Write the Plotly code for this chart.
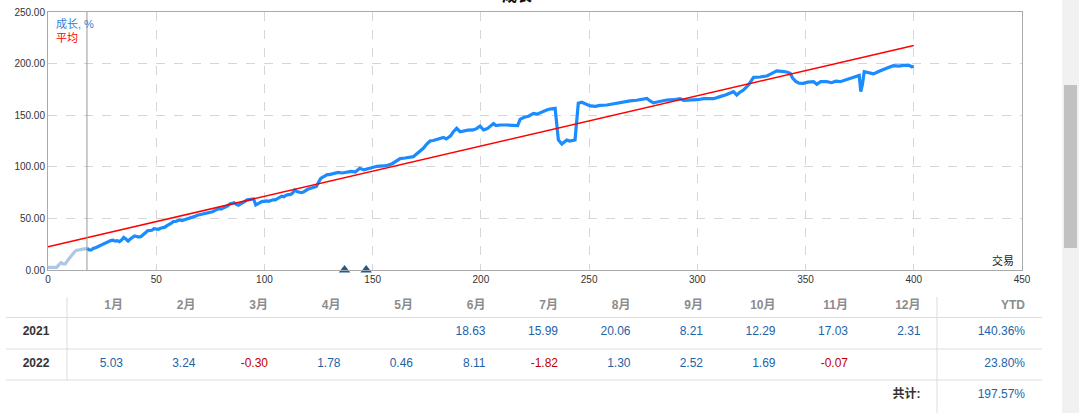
"""
Growth chart (成长, %) with trend line and monthly returns table.
"""

import plotly.graph_objects as go

# ── Data ────────────────────────────────────────────────────────────────
# history before the signal start (light segment)
pre_x = [0, 2, 4, 5, 6, 7, 8, 9, 10, 11, 12, 13, 14, 15, 16, 17, 18]
pre_y = [2.5, 2.5, 2.6, 5, 7, 6, 6, 9, 12, 15, 17, 19, 19.5, 19.4, 20.5, 21, 21]

growth_x = [
    18, 19, 20, 21, 22, 23, 24, 25, 26, 27, 28, 29, 30, 31, 32, 33, 34, 35, 36, 37,
    38, 39, 40, 41, 42, 43, 44, 45, 46, 47, 48, 49, 50, 51, 52, 53, 54, 55, 56, 57,
    58, 59, 60, 61, 62, 63, 64, 65, 66, 67, 68, 69, 70, 72, 74, 76, 77, 78, 79, 80,
    81, 82, 83, 84, 85, 86, 87, 88, 89, 90, 91, 92, 93, 94, 95, 96, 97, 98, 99, 100,
    101, 102, 103, 104, 105, 106, 107, 108, 109, 110, 111, 112, 113, 114, 115, 116,
    117, 118, 119, 120, 121, 122, 123, 124, 125, 126, 127, 128, 129, 130, 132, 134,
    136, 138, 140, 142, 144, 146, 148, 150, 152, 155, 157, 159, 161, 162.7, 165, 167,
    168.8, 170, 172, 173.4, 175, 176.5, 178, 180, 182.7, 184, 186, 187.3, 188.8, 190.4,
    192, 194, 196.5, 198, 199.6, 201.2, 203, 205.8, 207, 208.9, 212, 216.6, 217, 218.1,
    220, 222, 224.3, 226, 228, 230.4, 232, 234.3, 235.8, 237.4, 239.7, 241, 243.5, 245,
    246.6, 248, 250.5, 253, 255, 258.2, 261, 265, 268.9, 272, 276.7, 278, 279.7, 282,
    285.9, 289, 292, 293.6, 297, 300, 303, 307.5, 310.5, 313, 316.7, 318.2, 319.5,
    321.3, 323.6, 326, 329, 332.1, 334, 336.7, 339, 341.3, 342.9, 344, 345.6, 347, 349,
    351, 353.7, 355.2, 357, 359.8, 362, 364, 366, 369, 371, 373.6, 374.8, 375.5, 376.3,
    377.1, 379, 381.4, 384, 386, 388, 390.6, 393, 395.3, 397.6, 399, 400,
]
growth_y = [
    21, 19.5, 19.4, 21, 21.5, 22.6, 23, 24.5, 26, 27, 27.5, 28.5, 29, 28, 28.5, 27.5, 29, 31.5, 30, 28,
    30, 32, 33, 32.5, 32, 32.5, 34, 36, 38, 38.5, 38.5, 40, 39.5, 39.5, 40.5, 41, 41.5, 43, 44, 45.5,
    47, 47, 48, 48.5, 48, 48.4, 49.5, 50, 50.5, 51.5, 52, 53, 53.5, 54.3, 55, 56.5, 57.5, 58.5, 59.5, 59,
    59.8, 60.5, 62, 64, 65, 65.2, 63.5, 62.7, 64, 65, 66.5, 68, 68.5, 69, 68.8, 63, 64, 65, 66.5, 66.5,
    67, 66.5, 67.5, 68, 68, 69, 70, 71.5, 71, 72.5, 73, 73, 74.5, 77.5, 76, 75.5,
    74.9, 75.5, 77, 78.2, 79, 79.5, 80.7, 81, 85, 88.8, 90, 91, 92.5, 92.5, 93.7, 94.6,
    94, 95, 95.5, 95, 98.5, 97, 98, 99, 100.5, 100.8, 101.5, 103, 106, 108, 108.5, 109,
    109.8, 112, 115, 117.9, 122, 125, 125.5, 127, 128.5, 127, 130, 134, 137.3, 134,
    135, 135.5, 135.7, 137, 139.5, 135.7, 137, 142, 140, 140.5, 140.5, 140.5, 140, 146,
    148, 149, 151.8, 151, 153, 155, 156, 156.7, 126, 122, 126, 125, 126, 161.5,
    162.5, 161, 159, 158.5, 159.5, 159.9, 161, 162.5, 163.8, 164.5, 166.3, 164, 162, 163,
    164.7, 165, 166, 164.3, 164.5, 165, 166, 166, 168, 169.5, 172.8, 169.6, 172,
    174.4, 179.3, 186.7, 187, 188, 190, 193, 192.5, 191.9, 190.6, 186, 182.5, 181, 180.9,
    182, 182.5, 179.9, 182.5, 182.5, 181.5, 183, 182.5, 184.8, 186, 188, 188.5, 172.8, 180,
    192.2, 191.5, 190, 192.5, 194.5, 196, 198, 197.5, 198.2, 198.6, 197, 197.4,
]

avg_x = [0, 400]
avg_y = [22.6, 217.5]

start_trade = 18
marker_x = [137, 147]
marker_y = [0, 0]

# ── Monthly table ───────────────────────────────────────────────────────
months = ["1月", "2月", "3月", "4月", "5月", "6月", "7月", "8月", "9月", "10月", "11月", "12月"]
years = ["2021", "2022"]
returns_2021 = [None, None, None, None, None, 18.63, 15.99, 20.06, 8.21, 12.29, 17.03, 2.31]
returns_2022 = [5.03, 3.24, -0.30, 1.78, 0.46, 8.11, -1.82, 1.30, 2.52, 1.69, -0.07, None]
ytd = [140.36, 23.80]
total = 197.57

W, H = 1079, 413
PX_L, PX_R, PX_T, PX_B = 48, 1022, 12, 270

BLUE = "#1a8cff"
POS = "#1d63a8"
NEG = "#c00000"
FONT = "Liberation Sans, Noto Sans CJK SC, sans-serif"

fig = go.Figure()

# ── Growth chart ────────────────────────────────────────────────────────
fig.add_trace(go.Scatter(
    x=pre_x, y=pre_y, mode="lines",
    line=dict(color="#aec8e4", width=3.2), hoverinfo="skip",
))
fig.add_trace(go.Scatter(
    x=growth_x, y=growth_y, mode="lines",
    line=dict(color=BLUE, width=3.2), name="成长, %",
))
fig.add_trace(go.Scatter(
    x=avg_x, y=avg_y, mode="lines",
    line=dict(color="#ff0000", width=1.5), name="平均",
))
fig.add_trace(go.Scatter(
    x=marker_x, y=marker_y, mode="markers", cliponaxis=False,
    marker=dict(symbol="triangle-up", size=10, color="#1b5a94"),
))

fig.add_vline(x=start_trade, line=dict(color="#999999", width=1))

# ── Table (drawn on a full-page helper axis in pixel units) ─────────────
col_right = [123 + 72.5 * i for i in range(12)]
ytd_right = 1025
year_cx = 36
row_y = {"head": 306, "2021": 332, "2022": 364, "total": 395}

tx, ty, tt, tc, tw = [], [], [], [], []
for i, m in enumerate(months):
    tx.append(col_right[i]); ty.append(row_y["head"]); tt.append(m)
    tc.append("#8c8c8c"); tw.append("bold")
tx.append(ytd_right); ty.append(row_y["head"]); tt.append("YTD")
tc.append("#8c8c8c"); tw.append("bold")

for yr, vals, y_ytd in zip(years, [returns_2021, returns_2022], ytd):
    for i, v in enumerate(vals):
        if v is None:
            continue
        tx.append(col_right[i]); ty.append(row_y[yr]); tt.append(f"{v:.2f}")
        tc.append(POS if v >= 0 else NEG); tw.append("normal")
    tx.append(ytd_right); ty.append(row_y[yr]); tt.append(f"{y_ytd:.2f}%")
    tc.append(POS); tw.append("normal")

tx.append(col_right[11]); ty.append(row_y["total"]); tt.append("共计:")
tc.append("#333333"); tw.append("bold")
tx.append(ytd_right); ty.append(row_y["total"]); tt.append(f"{total:.2f}%")
tc.append(POS); tw.append("normal")

fig.add_trace(go.Scatter(
    x=tx, y=ty, text=tt, mode="text", textposition="middle left",
    textfont=dict(color=tc, weight=tw, size=12, family=FONT),
    xaxis="x2", yaxis="y2", hoverinfo="skip",
))
fig.add_trace(go.Scatter(
    x=[year_cx] * len(years), y=[row_y[y] for y in years], text=years,
    mode="text", textposition="middle center",
    textfont=dict(color="#333333", weight="bold", size=12, family=FONT),
    xaxis="x2", yaxis="y2", hoverinfo="skip",
))

shapes = [
    # total cell background
    dict(type="rect", x0=937, x1=1042, y0=380, y1=413, fillcolor="#f3f5fb", line_width=0, layer="below"),
    # scrollbar
    dict(type="rect", x0=1062, x1=1079, y0=0, y1=413, fillcolor="#f1f1f1", line_width=0),
    dict(type="rect", x0=1064, x1=1077, y0=85, y1=248, fillcolor="#c1c1c1", line_width=0),
]
for yl in [317.5, 349, 380]:
    shapes.append(dict(type="line", x0=6, x1=1042, y0=yl, y1=yl, line=dict(color="#dddddd", width=1)))
shapes.append(dict(type="line", x0=67, x1=67, y0=297, y1=380, line=dict(color="#dddddd", width=1)))
shapes.append(dict(type="line", x0=937, x1=937, y0=297, y1=413, line=dict(color="#dddddd", width=1)))
for s in shapes:
    s.update(xref="x2", yref="y2")

annotations = [
    dict(text="成长, %", x=3, y=238, xref="x", yref="y", showarrow=False,
         xanchor="left", font=dict(color="#2f7fd8", size=11)),
    dict(text="平均", x=3, y=225, xref="x", yref="y", showarrow=False,
         xanchor="left", font=dict(color="#ff0000", size=11)),
    dict(text="交易", x=447, y=9, xref="x", yref="y", showarrow=False,
         xanchor="right", font=dict(color="#222222", size=11)),
    dict(text="<b>成长</b>", x=517 / W, y=1 + 4 / H, xref="paper", yref="paper",
         showarrow=False, yanchor="middle", font=dict(color="#111111", size=15)),
]

fig.update_layout(
    width=W, height=H,
    margin=dict(l=0, r=0, t=0, b=0, autoexpand=False),
    paper_bgcolor="white", plot_bgcolor="rgba(0,0,0,0)",
    showlegend=False,
    font=dict(family=FONT, color="#333333", size=10),
    xaxis=dict(
        domain=[PX_L / W, PX_R / W], range=[0, 450], dtick=50, automargin=False,
        showgrid=True, gridcolor="#d6d6d6", griddash="dash",
        showline=True, linecolor="#aaaaaa", mirror=True, zeroline=False,
        ticks="", tickfont=dict(size=10, color="#333333"),
    ),
    yaxis=dict(
        domain=[1 - PX_B / H, 1 - PX_T / H], range=[0, 250], dtick=50, automargin=False,
        tickformat=".2f",
        showgrid=True, gridcolor="#d6d6d6", griddash="dash",
        showline=True, linecolor="#aaaaaa", mirror=True, zeroline=False,
        ticks="", tickfont=dict(size=10, color="#333333"),
    ),
    xaxis2=dict(domain=[0, 1], range=[0, W], visible=False, anchor="y2", automargin=False),
    yaxis2=dict(domain=[0, 1], range=[H, 0], visible=False, anchor="x2", automargin=False),
    shapes=shapes,
    annotations=annotations,
)

fig.write_html(
    "out.html",
    config={"displayModeBar": False},
    post_script="document.body.style.margin='0';document.body.style.overflow='hidden';",
)
